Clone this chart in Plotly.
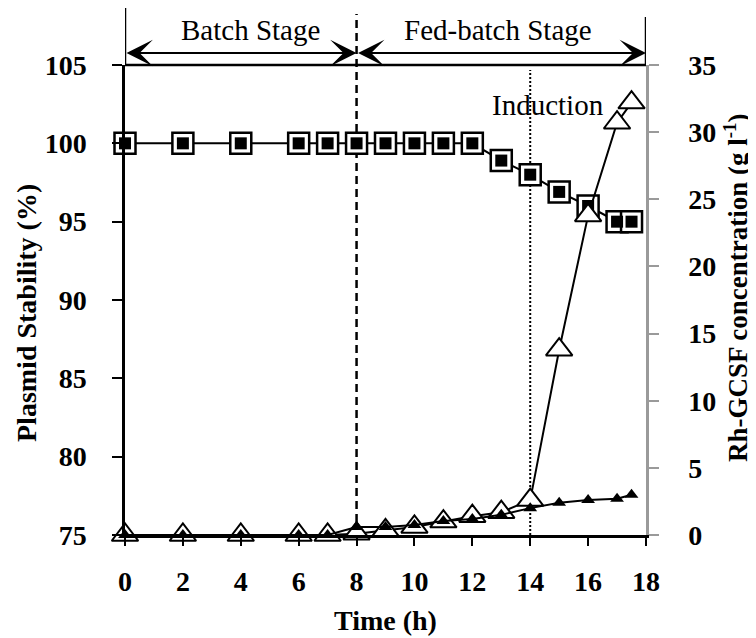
import plotly.graph_objects as go

# ---- data ----
time_h = [0, 2, 4, 6, 7, 8, 9, 10, 11, 12, 13, 14, 15, 16, 17, 17.5]
stability_open = [100, 100, 100, 100, 100, 100, 100, 100, 100, 100, 98.9, 98.0, 96.9, 96.0, 95.0, 95.0]
stability_filled = [100, 100, 100, 100, 100, 100, 100, 100, 100, 100, 98.9, 98.0, 96.9, 96.0, 95.0, 95.0]
rh_open = [0, 0, 0, 0, 0, 0.1, 0.35, 0.6, 1.0, 1.4, 1.7, 2.6, 13.8, 23.8, 30.7, 32.2]
rh_filled = [0, 0, 0, 0, 0, 0.6, 0.6, 0.75, 1.05, 1.2, 1.5, 2.0, 2.4, 2.6, 2.7, 3.0]

x_ticks = [0, 2, 4, 6, 8, 10, 12, 14, 16, 18]
y_left_ticks = [75, 80, 85, 90, 95, 100, 105]
y_right_ticks = [0, 5, 10, 15, 20, 25, 30, 35]

FONT = "Liberation Serif"
GRAY = "#9a9a9a"

fig = go.Figure()

# open triangles (Rh-GCSF)
fig.add_trace(go.Scatter(
    x=time_h, y=rh_open, yaxis="y2", mode="lines+markers",
    line=dict(color="black", width=2),
    marker=dict(symbol="triangle-up", size=23, color="white",
                line=dict(color="black", width=2)),
    cliponaxis=False, showlegend=False))
# filled triangles
fig.add_trace(go.Scatter(
    x=time_h, y=rh_filled, yaxis="y2", mode="lines+markers",
    line=dict(color="black", width=2),
    marker=dict(symbol="triangle-up", size=12, color="black"),
    cliponaxis=False, showlegend=False))

# open squares (plasmid stability)
fig.add_trace(go.Scatter(
    x=time_h, y=stability_open, mode="lines+markers",
    line=dict(color="black", width=2),
    marker=dict(symbol="square", size=21, color="white",
                line=dict(color="black", width=2.5)),
    cliponaxis=False, showlegend=False))
# filled squares
fig.add_trace(go.Scatter(
    x=time_h, y=stability_filled, mode="markers",
    marker=dict(symbol="square", size=12, color="black"),
    cliponaxis=False, showlegend=False))

W, H = 756, 638
L, R, T, B = 117, 118, 57, 111
ph = H - T - B
pw = W - L - R


def py(pix):
    return (H - B - pix) / ph


def px(pix):
    return (pix - L) / pw


shapes = [
    dict(type="line", xref="x", yref="paper", x0=0, x1=18, y0=1, y1=1,
         line=dict(color="black", width=2.5)),
    dict(type="line", xref="x", yref="paper", x0=0, x1=0, y0=1, y1=py(0),
         line=dict(color="black", width=2.5)),
    dict(type="line", xref="x", yref="paper", x0=18, x1=18, y0=1, y1=py(9),
         line=dict(color="black", width=2.5)),
    dict(type="line", xref="x", yref="paper", x0=8, x1=8, y0=0, y1=py(6),
         line=dict(color="black", width=2.5, dash="8px,5px"), layer="below"),
    dict(type="line", xref="x", yref="paper", x0=14, x1=14, y0=0, y1=py(62),
         line=dict(color="black", width=2, dash="2px,2px"), layer="below"),
]

arrow_y = py(45)
arrow_common = dict(xref="x", yref="paper", axref="x", ayref="pixel", ay=0,
                    text="", showarrow=True, arrowside="end+start",
                    arrowhead=3, startarrowhead=3, arrowwidth=2,
                    arrowsize=2.2, startarrowsize=2.2, arrowcolor="black",
                    standoff=0, startstandoff=0)


def label(text, x, y, xref="x", angle=0, size=29, bold=False):
    return dict(x=x, y=y, xref=xref, yref="paper", text=text, showarrow=False,
                xanchor="center", yanchor="middle", textangle=angle,
                font=dict(family=FONT, size=size, color="black",
                          weight="bold" if bold else "normal"))


annotations = [
    dict(x=8, y=arrow_y, ax=0, **arrow_common),
    dict(x=18, y=arrow_y, ax=8, **arrow_common),
    label("Batch Stage", 4.35, py(22)),
    label("Fed-batch Stage", 12.9, py(22)),
    label("Induction", 14.6, py(97)),
    label("Plasmid Stability (%)", px(18), py(305), xref="paper", angle=-90, size=28, bold=True),
    label("Rh-GCSF concentration (g l<sup>-1</sup>)", px(728), py(280), xref="paper",
          angle=-90, size=27, bold=True),
    label("Time (h)", 0.5, py(612), xref="paper", size=28, bold=True),
]

fig.update_layout(
    width=W, height=H,
    margin=dict(l=L, r=R, t=T, b=B, pad=0),
    paper_bgcolor="white", plot_bgcolor="white",
    font=dict(family=FONT, color="black"),
    showlegend=False,
    shapes=shapes,
    annotations=annotations,
    xaxis=dict(range=[0, 18], tickvals=x_ticks, ticktext=[str(v) for v in x_ticks],
               showgrid=False, zeroline=False, showline=True, linecolor="black", linewidth=2.5,
               ticks="outside", ticklen=8, tickwidth=2, tickcolor="black",
               tickfont=dict(family=FONT, size=28, color="black", weight="bold"),
               ticklabelstandoff=12),
    yaxis=dict(range=[75, 105], tickvals=y_left_ticks, ticktext=[str(v) for v in y_left_ticks],
               showgrid=False, zeroline=False, showline=True, linecolor="black", linewidth=2.5,
               ticks="outside", ticklen=10, tickwidth=2, tickcolor="black",
               tickfont=dict(family=FONT, size=28, color="black", weight="bold"),
               ticklabelstandoff=20),
    yaxis2=dict(range=[0, 35], tickvals=y_right_ticks, ticktext=[str(v) for v in y_right_ticks],
                overlaying="y", side="right",
                showgrid=False, zeroline=False, showline=True, linecolor=GRAY, linewidth=2.5,
                ticks="outside", ticklen=10, tickwidth=2, tickcolor=GRAY,
                tickfont=dict(family=FONT, size=28, color="black", weight="bold"),
                ticklabelstandoff=24),
)

fig.write_html("out.html")
